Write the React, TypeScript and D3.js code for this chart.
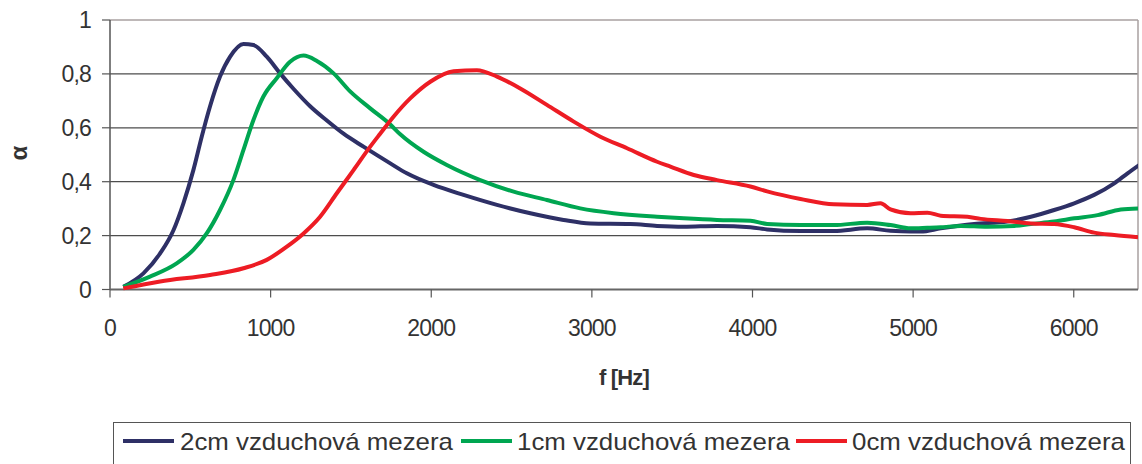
import React from "react";
import * as d3 from "d3";

const xTicks = [0, 1000, 2000, 3000, 4000, 5000, 6000];
const yTicks = [0, 0.2, 0.4, 0.6, 0.8, 1];
const seriesNames = ["2cm vzduchová mezera", "1cm vzduchová mezera", "0cm vzduchová mezera"];
const seriesColors = ["#2E3066", "#00A651", "#ED1C24"];

const navyF = [83, 208, 312, 395, 457, 519, 571, 623, 685, 748, 831, 893, 976, 1059, 1142, 1246, 1350, 1454, 1578, 1745, 1848, 2014, 2201, 2409, 2617, 2824, 2990, 3240, 3406, 3572, 3779, 3987, 4091, 4299, 4506, 4714, 4859, 4984, 5047, 5172, 5380, 5587, 5733, 5878, 6003, 6127, 6252, 6335, 6408];
const navyA = [0.01, 0.06, 0.134, 0.22, 0.32, 0.443, 0.567, 0.68, 0.79, 0.864, 0.911, 0.907, 0.864, 0.802, 0.745, 0.68, 0.627, 0.578, 0.53, 0.468, 0.431, 0.388, 0.351, 0.314, 0.283, 0.258, 0.245, 0.243, 0.236, 0.233, 0.236, 0.231, 0.223, 0.217, 0.217, 0.227, 0.218, 0.215, 0.215, 0.227, 0.243, 0.252, 0.27, 0.295, 0.32, 0.351, 0.394, 0.431, 0.462];

const greenF = [83, 249, 415, 519, 602, 685, 768, 831, 893, 955, 1038, 1121, 1205, 1288, 1392, 1495, 1620, 1745, 1807, 1952, 2097, 2305, 2513, 2720, 2928, 3136, 3406, 3572, 3779, 3987, 4091, 4299, 4506, 4714, 4859, 4984, 5088, 5172, 5296, 5463, 5629, 5733, 5878, 6003, 6148, 6293, 6400];
const greenA = [0.01, 0.048, 0.097, 0.147, 0.208, 0.295, 0.406, 0.518, 0.629, 0.716, 0.784, 0.845, 0.868, 0.848, 0.802, 0.735, 0.672, 0.612, 0.576, 0.511, 0.462, 0.406, 0.363, 0.332, 0.301, 0.283, 0.27, 0.264, 0.258, 0.255, 0.243, 0.239, 0.239, 0.248, 0.239, 0.227, 0.229, 0.231, 0.236, 0.233, 0.236, 0.243, 0.252, 0.264, 0.276, 0.297, 0.301];

const redF = [83, 312, 623, 831, 976, 1101, 1205, 1308, 1412, 1516, 1620, 1682, 1765, 1869, 1994, 2139, 2284, 2409, 2554, 2720, 2887, 3053, 3219, 3406, 3489, 3634, 3779, 3987, 4091, 4299, 4506, 4714, 4797, 4859, 4984, 5089, 5172, 5338, 5421, 5587, 5733, 5878, 6003, 6127, 6252, 6400];
const redA = [0.004, 0.03, 0.054, 0.079, 0.11, 0.159, 0.208, 0.27, 0.357, 0.443, 0.53, 0.578, 0.641, 0.709, 0.771, 0.81, 0.814, 0.79, 0.746, 0.685, 0.623, 0.567, 0.524, 0.474, 0.456, 0.425, 0.406, 0.382, 0.364, 0.336, 0.316, 0.314, 0.32, 0.297, 0.283, 0.285, 0.274, 0.27, 0.262, 0.254, 0.245, 0.243, 0.231, 0.211, 0.202, 0.194];

const seriesF = [navyF, greenF, redF];
const seriesA = [navyA, greenA, redA];

const FONT = "'Liberation Sans', Arial, sans-serif";

export default function App() {
  const left = 110, right = 1138, top = 20, bottom = 289.5;
  const x = d3.scaleLinear().domain([0, 6400]).range([left, right]);
  const y = d3.scaleLinear().domain([0, 1]).range([bottom, top]);
  const line = d3.line<[number, number]>().x(d => x(d[0])).y(d => y(d[1])).curve(d3.curveMonotoneX);

  const legendItems = [
    { lx: 123, tx: 180 },
    { lx: 461, tx: 517 },
    { lx: 796, tx: 852 },
  ];

  return (
    <svg width={1142} height={464} style={{ position: "absolute", left: 0, top: 0, background: "#fff" }} fontFamily={FONT}>
      <defs>
        <clipPath id="plot">
          <rect x={left} y={top - 3} width={right - left} height={bottom - top + 6} />
        </clipPath>
      </defs>
      {yTicks.filter(t => t > 0 && t < 1).map(t => (
        <line key={t} x1={left} x2={right} y1={y(t)} y2={y(t)} stroke="#4d4d4d" strokeWidth={1.2} />
      ))}
      <line x1={left} x2={right} y1={top} y2={top} stroke="#a8a0a0" strokeWidth={1.5} />
      <line x1={right} x2={right} y1={top} y2={bottom} stroke="#a8a0a0" strokeWidth={1.5} />
      <line x1={left} x2={left} y1={top} y2={bottom} stroke="#555" strokeWidth={1.5} />
      <line x1={left} x2={right} y1={bottom} y2={bottom} stroke="#666" strokeWidth={2} />
      {yTicks.map(t => (
        <g key={t}>
          <line x1={left - 8} x2={left} y1={y(t)} y2={y(t)} stroke="#555" strokeWidth={1.2} />
          <text x={91} y={y(t) + 8} textAnchor="end" fontSize={23} fill="#333" letterSpacing={-0.8}>
            {String(t).replace(".", ",")}
          </text>
        </g>
      ))}
      {xTicks.map(t => (
        <g key={t}>
          <line x1={x(t)} x2={x(t)} y1={bottom} y2={bottom + 8} stroke="#555" strokeWidth={1.2} />
          <text x={x(t)} y={336} textAnchor="middle" fontSize={23} fill="#333" letterSpacing={-0.8}>
            {t}
          </text>
        </g>
      ))}
      <text x={624} y={385} textAnchor="middle" fontSize={22} fontWeight="bold" fill="#333" letterSpacing={-0.8}>f [Hz]</text>
      <text transform="translate(27,153) rotate(-90)" textAnchor="middle" fontSize={24} fontWeight="bold" fill="#333">α</text>
      <g clipPath="url(#plot)">
        {seriesF.map((fs, i) => (
          <path key={i} d={line(fs.map((f, j) => [f, seriesA[i][j]] as [number, number])) || ""} fill="none" stroke={seriesColors[i]} strokeWidth={4} strokeLinejoin="round" />
        ))}
      </g>
      <rect x={113.5} y={422.5} width={1017} height={44} fill="#fff" stroke="#555" strokeWidth={1} />
      {legendItems.map((it, i) => (
        <g key={i}>
          <line x1={it.lx} x2={it.lx + 51} y1={441} y2={441} stroke={seriesColors[i]} strokeWidth={4} />
          <text x={it.tx} y={450} fontSize={24} fill="#333" textLength={273} lengthAdjust="spacingAndGlyphs">{seriesNames[i]}</text>
        </g>
      ))}
    </svg>
  );
}
